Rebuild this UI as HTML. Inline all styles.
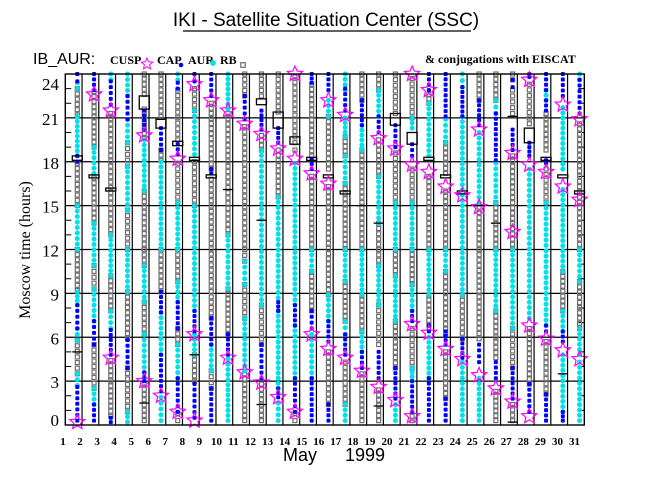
<!DOCTYPE html>
<html><head><meta charset="utf-8">
<style>
html,body{margin:0;padding:0;background:#fff;}
svg{display:block;}
</style></head>
<body>
<svg id="chart" width="650" height="500" viewBox="0 0 650 500" xmlns="http://www.w3.org/2000/svg">
<rect x="0" y="0" width="650" height="500" fill="#fff"/>
<text x="326" y="26" text-anchor="middle" font-family="Liberation Sans, sans-serif" font-size="19" fill="#000">IKI - Satellite Situation Center (SSC)</text>
<line x1="183" y1="31" x2="471" y2="31" stroke="#000" stroke-width="1.3"/>
<text x="33" y="64" font-family="Liberation Sans, sans-serif" font-size="16" fill="#000">IB_AUR:</text>
<g font-family="Liberation Serif, serif" font-weight="bold" font-size="12" fill="#000">
<text x="110" y="64">CUSP</text>
<text x="157" y="64">CAP</text>
<text x="188" y="64">AUR</text>
<text x="220" y="64">RB</text>
<text x="425" y="63">&amp; conjugations with EISCAT</text>
</g>
<g id="legendIcons"></g>
<g id="plot"></g>
<text x="300" y="461" text-anchor="middle" font-family="Liberation Sans, sans-serif" font-size="18" fill="#000">May</text>
<text x="365" y="461" text-anchor="middle" font-family="Liberation Sans, sans-serif" font-size="18" fill="#000">1999</text>
<text transform="translate(30,250) rotate(-90)" text-anchor="middle" font-family="Liberation Serif, serif" font-size="16" fill="#000">Moscow time (hours)</text>
</svg>
<script>
// ---- data ----
const days = Array.from({length:31},(_,i)=>i+1);
const yTicks = [0,3,6,9,12,15,18,21,24];
// [day, startHour, endHour]
const capSegs = [
[1,23.5,24],[1,18,18.4],[1,6.6,8.2],[1,0.3,2.6],
[2,22.9,24],[2,5.5,7.1],[2,0.3,1.4],
[3,21.9,23.5],[3,4.8,6.5],[3,0.2,0.5],
[4,20.9,22.5],[4,3.9,5.8],
[5,20.2,21.5],[5,3,3.6],
[6,18.8,20.3],[6,7.7,9.1],[6,2.3,4.8],
[7,23,23.4],[7,18.5,19.2],[7,6.6,8.4],[7,0.9,3.2],
[8,23.5,24],[8,6.4,7.8],[8,0.5,2.8],
[9,22.5,24],[9,17.2,17.5],[9,5.5,7.3],[9,0.3,2.5],
[10,4.8,6.2],
[11,20.9,22.5],
[12,20.2,21.5],[12,3.2,5.5],
[13,19.3,20.3],[13,7.8,8.4],[13,1.9,2.5],
[14,6.8,8.2],[14,0.9,3.2],
[15,23.4,24],[15,17.5,18.2],[15,6.6,7.8],[15,0.3,3.2],
[16,22.9,24],[16,5.7,7.1],[16,0.3,1.4],
[17,21.5,23],[17,4.8,6.2],
[18,20.5,22.2],[18,3.9,5],
[19,20,21.1],[19,3.2,5],
[20,19,20.5],[20,1.8,3.9],
[21,18.4,19.2],[21,7.1,7.8],[21,0.9,3],
[22,22.9,24],[22,6.4,6.8],[22,0.3,3.2],
[23,21.1,24],[23,5.5,6.4],[23,0.3,1.8],
[24,21.1,23.1],[24,4.6,5.9],
[25,20.5,22.2],[25,4.3,5.5],
[26,18.1,21.3],[26,3.2,4.3],
[27,23.1,23.6],[27,18.8,20.2],[27,1.8,3.9],
[28,23.8,24],[28,18.4,19.3],[28,0.9,2.8],
[29,22.9,24],[29,21.5,22.2],[29,17.9,18.1],[29,6.4,6.8],[29,0.3,2.1],
[30,22.5,24],[30,5.7,6.4],[30,0.3,0.9],
[31,21.3,23.6]
];
const aurSegs = [
[1,23,23.4],[1,18.4,21.1],[1,12,15],[1,8.2,9.1],[1,5.8,6.6],[1,2.7,3.5],
[2,17.2,19],[2,10.9,13.8],[2,7.1,9.3],[2,1.4,2.5],
[3,23.6,24],[3,10.2,13],[3,6.6,7.8],
[4,22.5,24],[4,19.3,20.9],[4,14.7,17.7],[4,9.1,12],[4,0.2,0.9],
[5,16,19.5],[5,8.4,10.9],[5,3.2,6.2],
[6,12,18],[6,4.8,7.7],[6,0.3,1.9],
[7,23.6,24],[7,12,15.2],[7,8.4,9.8],[7,3.2,5.5],
[8,18.5,21.5],[8,7.8,15],[8,4.8,6.2],
[9,3.7,5.5],
[10,21.6,24],[10,0.3,4.5],[10,9.3,13],
[11,9.6,11.2],[11,3.7,7.3],
[12,8.2,18.8],
[13,2.5,7.8],[13,8.7,15.6],[13,0.3,1.5],
[14,8.2,17.9],[14,3.2,6.8],
[15,10.5,12],[15,3.2,6.2],
[16,21.1,22.2],[16,7.1,8.9],
[17,22.9,24],[17,19.7,21],[17,16.5,18.4],[17,9.8,12],[17,6.2,7.1],[17,0.3,1.4],
[18,18.8,20.5],[18,8.9,12],[18,5,6.4],
[19,21.1,22.9],[19,13.8,17],[19,8.2,10.9],
[20,12,15.2],[20,7.1,10.2],[20,0.3,1.4],
[21,20.3,21],[21,12,15.2],[21,7.8,9.6],[21,3,3.9],
[22,18.4,22],[22,8.9,12],[22,3.2,6],
[23,19.3,20.9],[23,10.5,12],
[24,23.1,24],[24,8.9,21.1],[24,0.3,4.3],
[25,15.2,20],[25,0.3,3.2],
[26,21.3,22.2],[26,15.2,17.9],[26,7.8,12],
[27,6.6,12],
[28,7.3,17.5],
[29,22.2,22.9],[29,6.8,15.2],
[30,17.5,21.7],[30,10.5,16.1],[30,6.4,7.8],[30,0.9,4.8],
[31,23.6,24],[31,9.8,12],[31,4.8,6.6],[31,0.3,4.3]
];
const rbSegs = [
[1,21.2,23],[1,15,17.9],[1,9.2,12],[1,3.5,5.8],
[2,19,22.8],[2,13.8,16.9],[2,9.3,10.9],[2,2.5,5.5],
[3,13,21.3],[3,7.8,10.2],[3,0.6,4.4],
[4,17.7,19.3],[4,12,14.7],[4,5.9,9.1],[4,0.9,3.9],
[5,22.6,24],[5,19.6,21.6],[5,12,16],[5,10.9,12],[5,6.2,8.4],[5,0.3,2.8],
[6,21.1,24],[6,18.1,18.8],[6,9.1,12],
[7,19.5,22.9],[7,15.2,17.9],[7,9.8,12],[7,5.5,6.6],[7,0.3,0.8],
[8,21.5,23],[8,15,18],[8,3,4.8],
[9,17.5,22],[9,7.3,16.8],[9,2.5,3.7],
[10,13,21.3],[10,6.2,9.3],
[11,22.5,24],[11,12,20.4],[11,11.2,12],[11,7.3,9.6],[11,0.3,3.5],
[12,22.5,24],[12,18.8,19.8],[12,5.5,8.2],[12,0.3,2.8],
[13,21.4,24],[13,15.6,18.8],
[14,19.7,23.8],[14,18.8,19.3],[14,0.3,0.8],
[15,18.4,23.3],[15,12,17],[15,7.8,10.5],
[16,17.5,21.1],[16,8.9,16.3],[16,1.4,5],
[17,18.4,19.7],[17,12,16.5],[17,7.1,9.8],[17,1.4,4.3],
[18,22.2,24],[18,12,18.8],[18,6.4,8.9],[18,0.3,3.5],
[19,22.9,24],[19,17,19.5],[19,12,13.8],[19,10.9,12],[19,5.5,8.2],[19,0.3,2.4],
[20,21.3,24],[20,15.2,18.6],[20,10.2,12],[20,3.9,7.1],
[21,21,23.7],[21,15.2,17.5],[21,9.6,12],[21,3.9,6.6],[21,0.3,0.6],
[22,22,22.6],[22,12,17],[22,6.8,8.9],
[23,17.2,19.3],[23,12,16],[23,6.2,10.5],[23,1.8,5],
[24,5.9,8.9],
[25,22.2,24],[25,12,14.9],[25,5.9,12],
[26,22.2,24],[26,12,15.2],[26,4.6,7.8],[26,0.3,2.3],
[27,23.6,24],[27,21.3,22.9],[27,12,18.4],[27,3.9,6.6],[27,0.3,1.4],
[28,20.6,23.3],[28,2.8,6.6],
[29,18.8,21.3],[29,15.2,17.5],[29,2.1,5.7],
[30,7.8,10.5],
[31,12,20.6],[31,6.6,9.8]
];
// [day, hour]
const cuspStars = [
[1,0.2],[2,22.6],[3,21.5],[3,4.6],[5,19.8],[5,3.0],[6,2.0],[7,18.2],[7,0.9],
[8,23.3],[8,6.2],[8,0.3],[9,22.2],[10,21.5],[10,4.6],[11,20.6],[11,3.6],
[12,19.9],[12,2.9],[13,18.9],[13,1.9],[14,24],[14,18.2],[14,0.9],[15,17.2],[15,6.2],
[16,22.2],[16,16.5],[16,5.2],[17,21.2],[17,4.6],[18,3.7],[19,19.6],[19,2.6],
[20,18.9],[20,1.7],[21,24],[21,17.8],[21,6.9],[21,0.6],[22,22.9],[22,17.3],[22,6.3],
[23,16.3],[23,5.2],[24,15.7],[24,4.5],[25,20.2],[25,14.9],[25,3.4],[26,2.5],
[27,18.6],[27,13.2],[27,1.6],[28,23.6],[28,17.8],[28,6.8],[28,0.6],[29,17.3],[29,5.9],
[30,21.9],[30,16.3],[30,5.1],[31,20.9],[31,15.4],[31,4.5]
];
// EISCAT conjunction boxes [day, startHour, endHour]
const conjBoxes = [
[1,18.1,18.4],[2,16.9,17.1],[3,16.0,16.2],[5,21.6,22.5],[6,20.3,20.9],[7,19.1,19.4],
[8,18.1,18.3],[9,16.9,17.1],[12,21.9,22.3],[13,20.3,21.4],[14,19.2,19.7],[15,18.1,18.3],
[16,16.9,17.1],[17,15.8,16.0],[20,20.5,21.3],[21,19.2,20.0],[22,18.1,18.3],[23,16.9,17.1],
[24,15.8,16.0],[28,19.3,20.3],[29,18.1,18.3],[30,16.9,17.1],[31,15.8,16.0]
];
// short conjunction dashes [day, hour]
const conjDashes = [
[1,5.0],[5,1.5],[8,4.8],[10,16.1],[12,14.0],[12,1.4],[18,15.0],[19,13.8],[19,1.3],
[25,15.0],[26,13.8],[27,21.1],[27,0.2],[30,3.5]
];

// ---- geometry / axes ----
const X0=65.3, X1=584.3, Y0=425, Y24=74;
const colW=(X1-X0)/31;
function yOf(h){return Y0-(Y0-Y24)*h/24;}
function colBound(d){return X0+colW*(d-1);}
function colX(d){return colBound(d)+12;}
function labelX(d){return 63+17.05*(d-1);}

const NS="http://www.w3.org/2000/svg";
const plot=document.getElementById('plot');
function mk(tag,attrs,parent){const e=document.createElementNS(NS,tag);for(const k in attrs)e.setAttribute(k,attrs[k]);(parent||plot).appendChild(e);return e;}

function starPts(cx,cy,R){const r=R*0.45;let p=[];for(let i=0;i<10;i++){const a=-Math.PI/2+i*Math.PI/5;const rr=i%2?r:R;p.push((cx+rr*Math.cos(a)).toFixed(1)+','+(cy+rr*Math.sin(a)).toFixed(1));}return p.join(' ');}
function drawSquare(g,x,y,s){const e=mk('rect',{x:x-s/2,y:y-s/2,width:s,height:s,fill:'none',stroke:'#6e6e6e','stroke-width':1.2},g);return e;}
function drawDot(g,x,y,s){return mk('rect',{x:x-s/2,y:y-s/2,width:s,height:s,rx:1,fill:'#0000ff'},g);}
function drawAst(g,x,y,s){const p=`M${x-s/2},${y}H${x+s/2}M${x},${y-s/2}V${y+s/2}M${x-s*0.35},${y-s*0.35}L${x+s*0.35},${y+s*0.35}M${x-s*0.35},${y+s*0.35}L${x+s*0.35},${y-s*0.35}`;return mk('path',{d:p,stroke:'#00e0e8','stroke-width':1.6,fill:'none'},g);}

// grid + frame
const grid=mk('g',{});


for(let d=2;d<=31;d++){
  const l=mk('line',{x1:colBound(d),y1:Y24,x2:colBound(d),y2:Y0,stroke:'#000','stroke-width':1.2},grid);
  
  
}
yTicks.forEach(h=>{
  if(h>0&&h<24){
    const l=mk('line',{x1:X0,y1:yOf(h),x2:X1,y2:yOf(h),stroke:'#000','stroke-width':1.2},grid);
    
    
  }
});
for(let h=1;h<24;h++){ if(h%3===0) continue;
  const t1=mk('line',{x1:X0,y1:yOf(h),x2:X0+6,y2:yOf(h),stroke:'#000','stroke-width':1},grid);
  
  
  const t2=mk('line',{x1:X1-6,y1:yOf(h),x2:X1,y2:yOf(h),stroke:'#000','stroke-width':1},grid);
  
  
}

// series
const sG=mk('g',{});


const step=0.36;
function drawSegs(segs,fn,size,name){
  const g=mk('g',{},sG);
  
  
  segs.forEach(([d,a,b])=>{
    const x=colX(d);
    const n=Math.max(1,Math.round((b-a)/step));
    for(let i=0;i<=n;i++){
      const h=a+(b-a)*i/n;
      const e=fn(g,x,yOf(h),size);
      
      
    }
  });
}
drawSegs(rbSegs,drawSquare,4,'rb-series');
drawSegs(aurSegs,drawAst,5,'aur-series');
drawSegs(capSegs,drawDot,4,'cap-series');

const bG=mk('g',{},sG);


conjBoxes.forEach(([d,a,b])=>{
  const y1=yOf(b),y2=yOf(a);
  const hgt=Math.max(3,y2-y1);
  const r=mk('rect',{x:colX(d)-5,y:(y1+y2)/2-hgt/2,width:10,height:hgt,fill:'none',stroke:'#000','stroke-width':1.3},bG);
  
  
});
conjDashes.forEach(([d,h])=>{
  const l=mk('line',{x1:colX(d)-5,y1:yOf(h),x2:colX(d)+5,y2:yOf(h),stroke:'#000','stroke-width':1.3},bG);
  
  
});

const stG=mk('g',{},sG);


cuspStars.forEach(([d,h])=>{
  const s=mk('polygon',{points:starPts(colX(d),yOf(h),8),fill:'none',stroke:'#ff00ff','stroke-width':1.2},stG);
  
  
});

// frame
const fr=mk('rect',{x:X0,y:Y24,width:X1-X0,height:Y0-Y24,fill:'none',stroke:'#000','stroke-width':1.4});



// y labels
yTicks.forEach(h=>{
  let y=yOf(h)+7;
  if(h===24) y=yOf(h)+16;
  if(h===0) y=yOf(h)+1;
  const t=mk('text',{x:59,y:y,'text-anchor':'end','font-family':'Liberation Serif, serif','font-size':17,fill:'#000'});
  t.textContent=String(h);
  
  
});
// x labels
days.forEach(d=>{
  const t=mk('text',{x:labelX(d),y:445,'text-anchor':'middle','font-family':'Liberation Serif, serif','font-weight':'bold','font-size':11,fill:'#000'});
  t.textContent=String(d);
  
  
});

// legend icons
const lg=document.getElementById('legendIcons');
const li1=mk('polygon',{points:starPts(147,64,6),fill:'none',stroke:'#ff00ff','stroke-width':1},lg);


const li2=mk('circle',{cx:181,cy:65,r:2.3,fill:'#0000ff'},lg);


const li3=drawAst(lg,213,63,6);


const li4=drawSquare(lg,243,65,4.5);


</script>
</body></html>
